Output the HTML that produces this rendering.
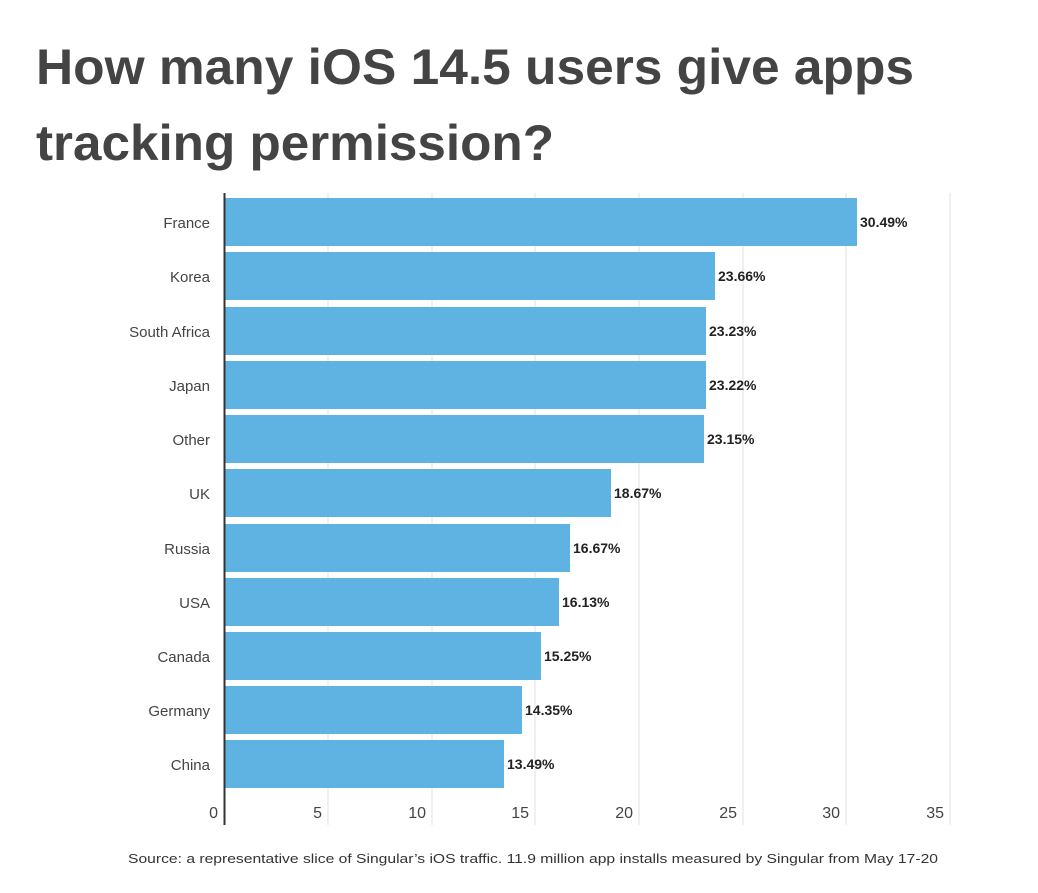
<!DOCTYPE html>
<html><head><meta charset="utf-8"><style>
html,body{margin:0;padding:0;background:#fff;}
svg{display:block;}
</style></head><body>
<svg width="1038" height="893" viewBox="0 0 1038 893" xmlns="http://www.w3.org/2000/svg" font-family="Liberation Sans, sans-serif">
<text x="36" y="84" font-size="50" font-weight="bold" fill="#444" textLength="878" lengthAdjust="spacingAndGlyphs">How many iOS 14.5 users give apps</text>
<text x="36" y="160" font-size="50" font-weight="bold" fill="#444" textLength="518" lengthAdjust="spacingAndGlyphs">tracking permission?</text>
<g stroke="#e2e2e2" stroke-width="1">
<line x1="328" y1="193" x2="328" y2="825"/><line x1="432" y1="193" x2="432" y2="825"/>
<line x1="535" y1="193" x2="535" y2="825"/><line x1="639" y1="193" x2="639" y2="825"/>
<line x1="743" y1="193" x2="743" y2="825"/><line x1="846" y1="193" x2="846" y2="825"/>
<line x1="950" y1="193" x2="950" y2="825"/>
</g>
<g fill="#5eb3e3">
<rect x="225" y="198" width="632" height="48"/>
<rect x="225" y="252" width="490" height="48"/>
<rect x="225" y="307" width="481" height="48"/>
<rect x="225" y="361" width="481" height="48"/>
<rect x="225" y="415" width="479" height="48"/>
<rect x="225" y="469" width="386" height="48"/>
<rect x="225" y="524" width="345" height="48"/>
<rect x="225" y="578" width="334" height="48"/>
<rect x="225" y="632" width="316" height="48"/>
<rect x="225" y="686" width="297" height="48"/>
<rect x="225" y="740" width="279" height="48"/>
</g>
<line x1="224.5" y1="193" x2="224.5" y2="825" stroke="#333" stroke-width="2"/>
<g font-size="15" fill="#444" text-anchor="end">
<text x="210" y="228">France</text><text x="210" y="282">Korea</text>
<text x="210" y="337">South Africa</text><text x="210" y="391">Japan</text>
<text x="210" y="445">Other</text><text x="210" y="499">UK</text>
<text x="210" y="554">Russia</text><text x="210" y="608">USA</text>
<text x="210" y="662">Canada</text><text x="210" y="716">Germany</text>
<text x="210" y="770">China</text>
</g>
<g font-size="14" fill="#222" font-weight="bold">
<text x="860" y="227">30.49%</text><text x="718" y="281">23.66%</text>
<text x="709" y="336">23.23%</text><text x="709" y="390">23.22%</text>
<text x="707" y="444">23.15%</text><text x="614" y="498">18.67%</text>
<text x="573" y="553">16.67%</text><text x="562" y="607">16.13%</text>
<text x="544" y="661">15.25%</text><text x="525" y="715">14.35%</text>
<text x="507" y="769">13.49%</text>
</g>
<g font-size="16" fill="#444" text-anchor="end">
<text x="218" y="818">0</text><text x="322" y="818">5</text><text x="426" y="818">10</text>
<text x="529" y="818">15</text><text x="633" y="818">20</text><text x="737" y="818">25</text>
<text x="840" y="818">30</text><text x="944" y="818">35</text>
</g>
<text x="128" y="863" font-size="13" fill="#333" textLength="810" lengthAdjust="spacingAndGlyphs">Source: a representative slice of Singular’s iOS traffic. 11.9 million app installs measured by Singular from May 17-20</text>
</svg>
</body></html>
